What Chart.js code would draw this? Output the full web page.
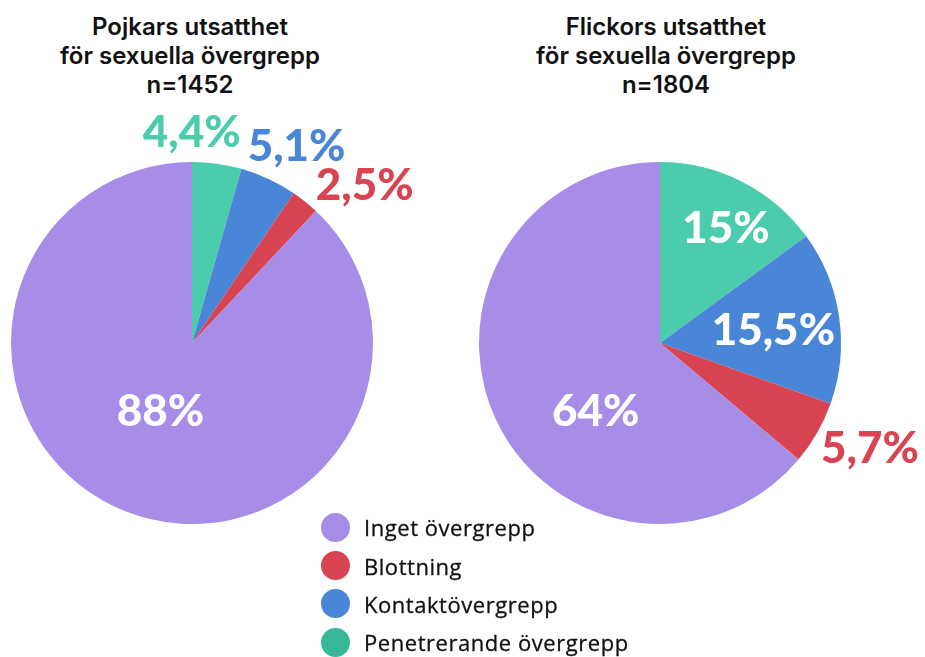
<!DOCTYPE html>
<html>
<head>
<meta charset="utf-8">
<script src="https://cdn.jsdelivr.net/npm/chart.js@4"></script>
<style>
  body { margin: 0; background: #fff; width: 925px; height: 657px; position: relative; overflow: hidden; }
  .title { position: absolute; top: 12px; width: 400px; text-align: center; font-family: Inter, sans-serif; font-weight: 600; font-size: 24px; line-height: 29px; color: #111; }
  canvas { position: absolute; }
  #legend { position: absolute; left: 321px; top: 508px; font-family: "Open Sans", sans-serif; font-size: 22px; font-weight: 500; letter-spacing: 0.55px; color: #111; -webkit-text-stroke: 0.3px #111; }
  #legend div { height: 38.4px; display: flex; align-items: center; }
  #legend span.dot { width: 29px; height: 29px; border-radius: 50%; margin-right: 14px; display: inline-block; }
</style>
</head>
<body>
<div class="title" style="left:-10px">Pojkars utsatthet<br>för sexuella övergrepp<br>n=1452</div>
<div class="title" style="left:466px">Flickors utsatthet<br>för sexuella övergrepp<br>n=1804</div>
<canvas id="boys_chart" style="left:0;top:100px" width="460" height="440"></canvas>
<canvas id="girls_chart" style="left:460px;top:100px" width="465" height="440"></canvas>
<div id="legend"></div>
<script>
// DATA (slice order = clockwise from top)
const categories = ['Penetrerande övergrepp', 'Kontaktövergrepp', 'Blottning', 'Inget övergrepp'];
const boys_values = [4.4, 5.1, 2.5, 88];
const girls_values = [15, 15.5, 5.7, 64];
const boys_labels = ['4,4%', '5,1%', '2,5%', '88%'];
const girls_labels = ['15%', '15,5%', '5,7%', '64%'];

const colors = ['#4bcdad', '#4a86d8', '#d94452', '#a78de8'];
const legend_colors = ['#37b898', '#4a86d8', '#d94452', '#a78de8'];

// label placement: [radius factor, angle shift in degrees, inside?]
const boys_label_pos = [[1.16, -8, false], [1.23, 3, false], [1.29, 9, false], [0.42, 3, true]];
const girls_label_pos = [[0.73, 3, true], [0.63, 2, true], [1.30, -3, false], [0.52, -22, true]];

// draw value labels from arc elements
const pieLabels = {
    id: 'pieLabels',
    afterDatasetsDraw(chart, args, opts){
        const c = chart.ctx;
        const meta = chart.getDatasetMeta(0);
        c.save();
        c.font = '900 44px Lato, sans-serif';
        c.textAlign = 'center';
        c.textBaseline = 'middle';
        meta.data.forEach((arc, i) => {
            const p = opts.pos[i];
            const mid = (arc.startAngle + arc.endAngle) / 2 + p[1] * Math.PI / 180;
            const r = arc.outerRadius * p[0];
            const x = arc.x + Math.cos(mid) * r;
            const y = arc.y + Math.sin(mid) * r;
            c.fillStyle = p[2] ? '#fff' : colors[i];
            c.fillText(opts.labels[i], x, y);
        });
        c.restore();
    }
};

function makePie(id, values, labels, pos, padding){
    return new Chart(document.getElementById(id), {
        type: 'pie',
        data: {
            labels: categories,
            datasets: [{
                data: values,
                backgroundColor: colors,
                borderWidth: 0
            }]
        },
        options: {
            responsive: false,
            animation: false,
            layout: { padding: padding },
            plugins: {
                legend: { display: false },
                tooltip: { enabled: false },
                pieLabels: { labels: labels, pos: pos }
            }
        },
        plugins: [pieLabels]
    });
}

makePie('boys_chart', boys_values, boys_labels, boys_label_pos, {left: 11, right: 87, top: 62, bottom: 16});
makePie('girls_chart', girls_values, girls_labels, girls_label_pos, {left: 19, right: 84, top: 62, bottom: 16});

// LEGEND (reverse order)
const legend = document.getElementById('legend');
for (let i = categories.length - 1; i >= 0; i--){
    const row = document.createElement('div');
    row.innerHTML = `<span class="dot" style="background:${legend_colors[i]}"></span>${categories[i]}`;
    legend.appendChild(row);
}
</script>
</body>
</html>
